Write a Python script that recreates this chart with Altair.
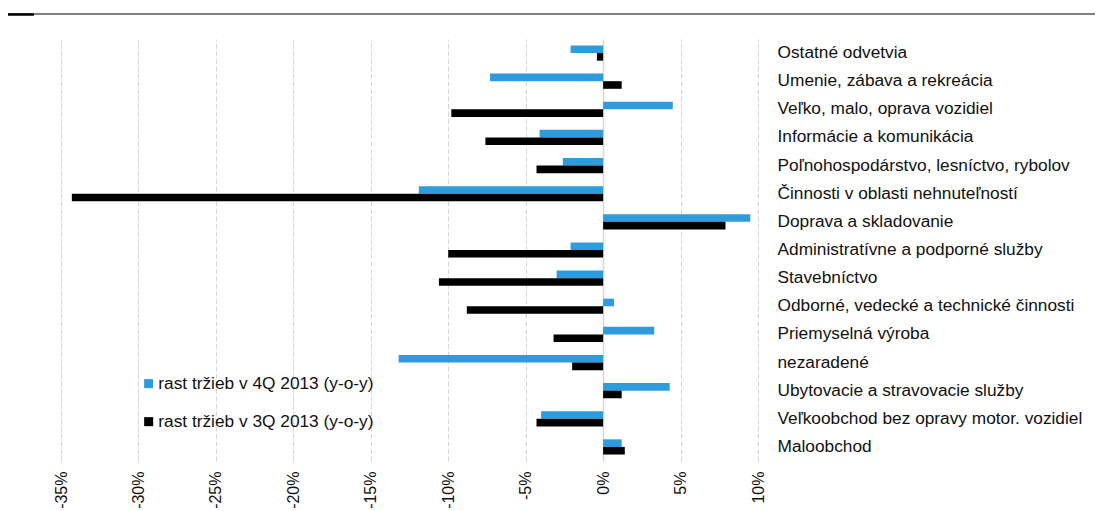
import altair as alt
import pandas as pd

categories = [
    "Ostatné odvetvia",
    "Umenie, zábava a rekreácia",
    "Veľko, malo, oprava vozidiel",
    "Informácie a komunikácia",
    "Poľnohospodárstvo, lesníctvo, rybolov",
    "Činnosti v oblasti nehnuteľností",
    "Doprava a skladovanie",
    "Administratívne a podporné služby",
    "Stavebníctvo",
    "Odborné, vedecké a technické činnosti",
    "Priemyselná výroba",
    "nezaradené",
    "Ubytovacie a stravovacie služby",
    "Veľkoobchod bez opravy motor. vozidiel",
    "Maloobchod",
]
q4_values = [-2.1, -7.3, 4.5, -4.1, -2.6, -11.9, 9.5, -2.1, -3.0, 0.7, 3.3, -13.2, 4.3, -4.0, 1.2]
q3_values = [-0.4, 1.2, -9.8, -7.6, -4.3, -34.3, 7.9, -10.0, -10.6, -8.8, -3.2, -2.0, 1.2, -4.3, 1.4]
series = ["rast tržieb v 4Q 2013 (y-o-y)", "rast tržieb v 3Q 2013 (y-o-y)"]
tick_values = [-35, -30, -25, -20, -15, -10, -5, 0, 5, 10]

rows = []
for c, a, b in zip(categories, q4_values, q3_values):
    rows.append({"category": c, "series": series[0], "value": a})
    rows.append({"category": c, "series": series[1], "value": b})
df = pd.DataFrame(rows)

FONT = "Liberation Sans"
BLUE = "#2E9BDC"
TXT = "#111111"

x_scale = alt.Scale(domain=[-35, 10], nice=False, zero=False)

bars = alt.Chart(df).mark_bar().encode(
    x=alt.X(
        "value:Q",
        title=None,
        scale=x_scale,
        axis=alt.Axis(
            values=tick_values,
            labelExpr="datum.value + '%'",
            labelAngle=-90,
            grid=True,
            gridDash={"condition": {"test": "datum.value === 0", "value": [1, 0]}, "value": [5, 2.5]},
            gridColor="#d6d6d6",
            gridWidth={"condition": {"test": "datum.value === 0", "value": 1.5}, "value": 1},
            ticks=False,
            tickSize=0,
            domain=False,
            labelFont=FONT,
            labelFontSize=16,
            labelColor=TXT,
            labelPadding=10,
        ),
    ),
    y=alt.Y(
        "category:N",
        sort=categories,
        title=None,
        scale=alt.Scale(paddingInner=0.46, paddingOuter=0.23),
        axis=alt.Axis(
            orient="right",
            grid=False,
            ticks=False,
            tickSize=0,
            domain=False,
            labelFont=FONT,
            labelFontSize=17.3,
            labelColor=TXT,
            labelPadding=19,
            labelLimit=400,
        ),
    ),
    yOffset=alt.YOffset("series:N", sort=series, scale=alt.Scale(paddingInner=0, paddingOuter=0)),
    color=alt.Color(
        "series:N",
        sort=series,
        scale=alt.Scale(domain=series, range=[BLUE, "#000000"]),
        legend=alt.Legend(
            title=None,
            orient="none",
            legendX=79,
            legendY=336,
            padding=0,
            symbolType="square",
            symbolSize=81,
            symbolStrokeWidth=0,
            labelFont=FONT,
            labelFontSize=17.3,
            labelColor=TXT,
            labelOffset=1,
            rowPadding=20,
            labelLimit=400,
        ),
    ),
)

top_line = alt.Chart(pd.DataFrame({"a": [0]})).mark_rule(color="#000000", strokeWidth=1).encode(
    x=alt.value(-53), x2=alt.value(1034), y=alt.value(-25)
)
top_thick = alt.Chart(pd.DataFrame({"a": [0]})).mark_rule(color="#000000", strokeWidth=2.5).encode(
    x=alt.value(-53), x2=alt.value(-27), y=alt.value(-24.5)
)

chart = alt.layer(bars, top_line, top_thick).properties(
    width=697,
    height=422,
    autosize=alt.AutoSizeParams(type="none"),
    padding={"left": 53, "top": 31, "right": 339, "bottom": 50},
).configure_view(strokeWidth=0)

chart.save("out.html", embed_options={"renderer": "svg", "actions": False})
